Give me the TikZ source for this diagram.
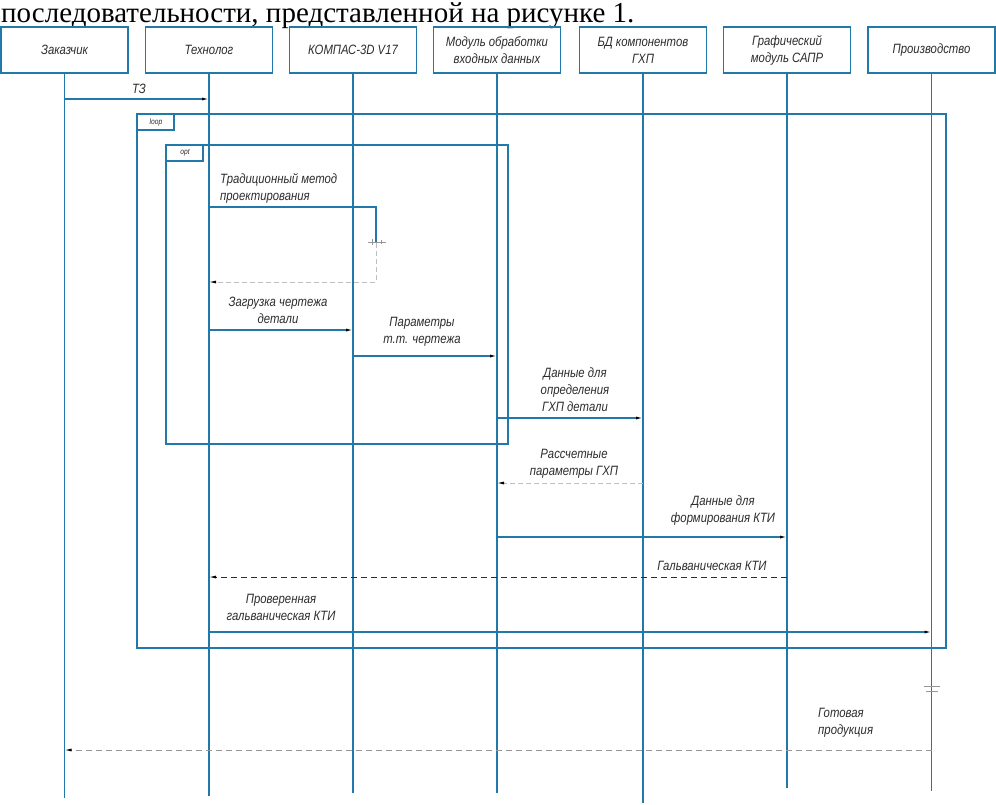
\documentclass[tikz,border=0pt]{standalone}
\usepackage{fontspec}
\setmainfont{Liberation Serif}
\newfontfamily\gost[FakeStretch=0.84]{Liberation Sans}
\usetikzlibrary{arrows.meta,calc}
\definecolor{lblue}{RGB}{35,120,170}
\definecolor{ink}{RGB}{45,45,45}
\definecolor{faint}{RGB}{190,190,190}
\definecolor{midgray}{RGB}{150,150,150}
\begin{document}
\begin{tikzpicture}[x=1pt,y=-1pt,
  gfont/.style={font=\gost\itshape\fontsize{13.5}{17}\selectfont},
  hbox/.style={draw=lblue,line width=1.2pt,minimum width=127pt,minimum height=46pt,inner sep=0pt,gfont,align=center,text=ink},
  life/.style={draw=lblue,line width=1.1pt},
  frame/.style={draw=lblue,line width=1.2pt},
  lbl/.style={gfont,text=ink,align=center,inner sep=0pt},
  tag/.style={font=\gost\itshape\fontsize{8}{9}\selectfont,text=ink,inner sep=0pt},
  tip/.style={-{Latex[length=7pt,width=3pt,color=black]}},
  msg/.style={draw=lblue,line width=1.1pt,tip},
  retfaint/.style={draw=faint,line width=0.9pt,dash pattern=on 5pt off 3pt,tip},
  retdark/.style={draw=ink,line width=0.9pt,dash pattern=on 6pt off 4pt,tip},
  retmid/.style={draw=midgray,line width=0.9pt,dash pattern=on 6pt off 4pt,tip}
]
\useasboundingbox (0,0) rectangle (996,804);
\fill[white] (0,0) rectangle (996,804);

\node[anchor=base west,inner sep=0pt,font=\fontsize{29}{31}\selectfont] (title) at (1,22) {последовательности, представленной на рисунке 1.};

% header boxes
\node[hbox] (c1) at (64.5,50) {Заказчик};
\node[hbox] (c2) at (209,50) {Технолог};
\node[hbox] (c3) at (353,50) {КОМПАС-3D V17};
\node[hbox] (c4) at (497,50) {Модуль обработки\\входных данных};
\node[hbox] (c5) at (643,50) {БД компонентов\\ГХП};
\node[hbox] (c6) at (787,50) {Графический\\модуль САПР};
\node[hbox] (c7) at (931.5,50) {Производство};

% lifelines
\draw[life] (c1.south) -- (c1.south |- 0,798);
\draw[life] (c2.south) -- (c2.south |- 0,796);
\draw[life] (c3.south) -- (c3.south |- 0,793);
\draw[life] (c4.south) -- (c4.south |- 0,793);
\draw[life] (c5.south) -- (c5.south |- 0,803);
\draw[life] (c6.south) -- (c6.south |- 0,788);
\draw[life] (c7.south) -- (c7.south |- 0,791);

% frames
\draw[frame] (137,114) rectangle (946,648);
\draw[frame] (137,114) rectangle (174,130);
\node[tag] (tloop) at (156,122) {loop};
\draw[frame] (166,145) rectangle (508,444);
\draw[frame] (166,145) rectangle (203,161);
\node[tag] (topt) at (185,153) {opt};

% messages
\node[lbl] (m1) at (139,89) {ТЗ};
\draw[msg] (c1.south |- 0,99) -- (c2.south |- 0,99);

\node[lbl,align=left,anchor=west] (m2) at (220,188) {Традиционный метод\\проектирования};
\coordinate (s1) at (376,207);
\coordinate (s2) at (376,243);
\coordinate (s3) at (376,282);
\draw[life] (c2.south |- s1) -- (s1) -- (s2);
\draw[retfaint] (s2) -- (s3) -- (c2.south |- s3);
\draw[midgray,line width=0.8pt] (368,242) -- (386,242) (372,239) -- (372,245) (381,240) -- (381,244);

\node[lbl] (m3) at (278,310) {Загрузка чертежа\\детали};
\draw[msg] (c2.south |- 0,330) -- (c3.south |- 0,330);

\node[lbl] (m4) at (422,331.5) {Параметры\\т.т. чертежа};
\draw[msg] (c3.south |- 0,356) -- (c4.south |- 0,356);

\node[lbl] (m5) at (575,390) {Данные для\\определения\\ГХП детали};
\draw[msg] (c4.south |- 0,418) -- (c5.south |- 0,418);

\node[lbl] (m6) at (574,464) {Рассчетные\\параметры ГХП};
\draw[retfaint] (c5.south |- 0,483) -- (c4.south |- 0,483);

\node[lbl] (m7) at (723,510.5) {Данные для\\формирования КТИ};
\draw[msg] (c4.south |- 0,537) -- (c6.south |- 0,537);

\node[lbl] (m8) at (712,566) {Гальваническая КТИ};
\draw[retdark] (c6.south |- 0,577) -- (c2.south |- 0,577);

\node[lbl] (m9) at (281,607) {Проверенная\\гальваническая КТИ};
\draw[msg] (c2.south |- 0,632) -- (c7.south |- 0,632);

\draw[midgray,line width=0.8pt] (924,686) -- (940,686) (926,691) -- (938,691);
\node[lbl,align=left,anchor=west] (m10) at (818,723) {Готовая\\продукция};
\draw[retmid] (c7.south |- 0,750) -- (c1.south |- 0,750);
\end{tikzpicture}
\end{document}
